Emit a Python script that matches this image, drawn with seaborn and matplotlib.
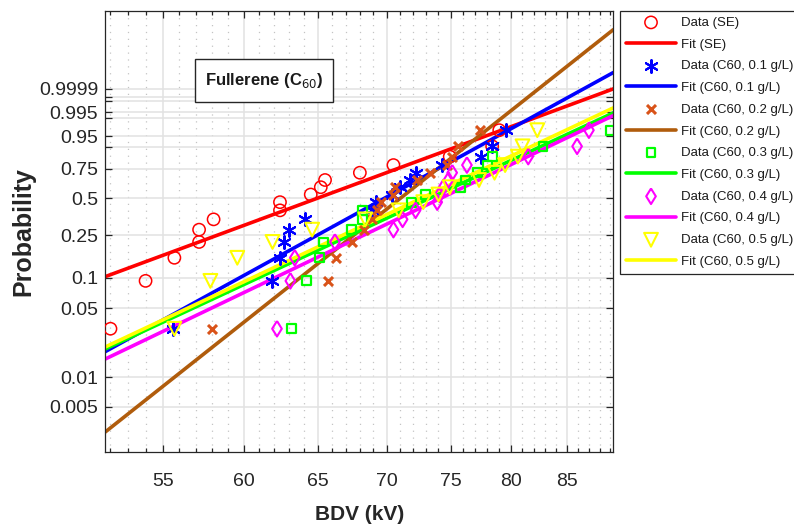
import numpy as np
import pandas as pd
import matplotlib
matplotlib.use("Agg")
import matplotlib.pyplot as plt
import seaborn as sns
from matplotlib.ticker import FixedLocator, FixedFormatter, NullFormatter
from matplotlib.patches import Rectangle

# Plotting positions (i - 0.5) / n for the 16 breakdown tests of every sample
prob = [0.03125, 0.09375, 0.15625, 0.21875, 0.28125, 0.34375, 0.40625, 0.46875,
        0.53125, 0.59375, 0.65625, 0.71875, 0.78125, 0.84375, 0.90625, 0.96875]

# Sorted breakdown voltages (kV)
bdv_se = [52.0, 54.0, 55.7, 57.2, 57.2, 58.1, 62.4, 62.4,
          64.5, 65.2, 65.5, 68.0, 70.5, 74.9, 78.4, 79.0]
bdv_c60_01 = [55.6, 61.9, 62.4, 62.7, 63.0, 64.1, 68.9, 69.2,
              70.4, 71.0, 71.8, 72.2, 74.3, 77.5, 78.4, 79.6]
bdv_c60_02 = [58.0, 65.7, 66.3, 67.4, 68.3, 68.9, 69.3, 69.6,
              70.5, 70.6, 72.3, 73.3, 74.7, 75.1, 75.6, 77.4]
bdv_c60_03 = [63.2, 64.2, 65.1, 65.4, 67.4, 68.2, 68.2, 71.9,
              73.0, 75.8, 76.2, 77.2, 78.0, 78.4, 82.8, 89.0]
bdv_c60_04 = [62.2, 63.1, 63.4, 66.2, 70.5, 71.2, 72.2, 73.9,
              74.1, 74.4, 74.8, 75.1, 76.3, 81.5, 85.9, 87.0]
bdv_c60_05 = [55.7, 57.9, 59.6, 61.9, 64.6, 68.4, 70.9, 72.8,
              74.0, 74.9, 77.3, 78.6, 79.5, 80.6, 81.0, 82.3]

# Weibull fit parameters: scale (kV) and shape
scale = [67.95, 71.97, 72.54, 75.97, 76.8, 75.26]
shape = [8.12, 12.07, 17.4, 10.21, 10.53, 10.34]

names = ["SE", "C60, 0.1 g/L", "C60, 0.2 g/L", "C60, 0.3 g/L", "C60, 0.4 g/L", "C60, 0.5 g/L"]
samples = [bdv_se, bdv_c60_01, bdv_c60_02, bdv_c60_03, bdv_c60_04, bdv_c60_05]

# Probability axis tick values (labels left blank where they would crowd)
ytick_p = [0.005, 0.01, 0.05, 0.1, 0.25, 0.5, 0.75, 0.9, 0.95, 0.99, 0.995, 0.999, 0.9995, 0.9999]
ytick_lab = ["0.005", "0.01", "0.05", "0.1", "0.25", "0.5", "0.75", "", "0.95", "", "0.995", "", "", "0.9999"]
xtick_major = [55, 60, 65, 70, 75, 80, 85]

data_color = ["#ff0000", "#0000ff", "#d95319", "#00ff00", "#ff00ff", "#ffff00"]
fit_color = ["#ff0000", "#0000ff", "#b05c0c", "#00ff00", "#ff00ff", "#ffff00"]

diamond = [(0, 1), (0.62, 0), (0, -1), (-0.62, 0), (0, 1)]
marker_style = [
    dict(marker="o", s=78, facecolor="none", linewidth=1.1),
    dict(marker=(6, 2, 0), s=85, linewidth=1.5),
    dict(marker="x", s=42, linewidth=2.2),
    dict(marker="s", s=40, facecolor="none", linewidth=1.6),
    dict(marker=diamond, s=125, facecolor="none", linewidth=1.5),
    dict(marker="v", s=98, facecolor="none", linewidth=1.5),
]


def weibull_y(p):
    """Reduced Weibull variate ln(-ln(1 - p))."""
    p = np.asarray(p, dtype=float)
    return np.log(-np.log1p(-p))


XMIN, XMAX = 51.71, 89.31
YMIN, YMAX = -6.37, 4.067

sns.set_theme(style="ticks")
plt.rcParams["font.family"] = ["Liberation Sans", "DejaVu Sans"]

fig = plt.figure(figsize=(7.94, 5.25), dpi=100)
ax = fig.add_axes([0.1326, 0.1385, 0.6398, 0.8411])
ax.set_xscale("log")

xx = np.geomspace(XMIN, XMAX, 200)
for i, (name, bdv) in enumerate(zip(names, samples)):
    df = pd.DataFrame({"BDV": bdv, "Weibull": weibull_y(prob)})
    st = dict(marker_style[i])
    if st.get("facecolor") == "none":
        st["edgecolor"] = data_color[i]
    else:
        st["color"] = data_color[i]
    sns.scatterplot(data=df, x="BDV", y="Weibull", ax=ax, label=f"Data ({name})",
                    zorder=3, **st)
    fit = pd.DataFrame({"BDV": xx, "Weibull": shape[i] * (np.log(xx) - np.log(scale[i]))})
    sns.lineplot(data=fit, x="BDV", y="Weibull", ax=ax, color=fit_color[i],
                 linewidth=2.6, label=f"Fit ({name})", zorder=2)

ax.set_xlim(XMIN, XMAX)
ax.set_ylim(YMIN, YMAX)

ax.xaxis.set_major_locator(FixedLocator(xtick_major))
ax.xaxis.set_major_formatter(FixedFormatter([str(v) for v in xtick_major]))
ax.xaxis.set_minor_locator(FixedLocator([v for v in range(52, 90) if v not in xtick_major]))
ax.xaxis.set_minor_formatter(NullFormatter())
ax.yaxis.set_major_locator(FixedLocator(weibull_y(ytick_p)))
ax.yaxis.set_major_formatter(FixedFormatter(ytick_lab))
ax.yaxis.set_minor_locator(FixedLocator([]))

ax.grid(which="major", color="#e2e2e2", linewidth=1.1, linestyle="-", zorder=0)
ax.xaxis.grid(which="minor", color="#c4c4c4", linewidth=0.9, linestyle=(0, (1, 4.5)))
ax.set_axisbelow(True)

ax.tick_params(which="both", direction="in", top=True, right=True,
               color="#262626", width=0.9, labelcolor="#262626", labelsize=14)
ax.tick_params(which="major", length=5)
ax.tick_params(which="minor", length=3)
ax.tick_params(axis="x", pad=15)
ax.tick_params(axis="y", pad=5)
for sp in ax.spines.values():
    sp.set_color("#262626")
    sp.set_linewidth(0.9)

ax.set_xlabel("BDV (kV)", fontsize=15, fontweight="bold", color="#262626", labelpad=11)
ax.set_ylabel("Probability", fontsize=18, fontweight="bold", color="#262626", labelpad=3)

# Sample label box
ax.add_patch(Rectangle((0.1766, 0.7939), 0.271, 0.0967, transform=ax.transAxes,
                       facecolor="white", edgecolor="#262626", linewidth=1.0, zorder=4))
ax.text(0.312, 0.842, "Fullerene (C$_{60}$)", transform=ax.transAxes, ha="center", va="center",
        fontsize=12, fontweight="bold", color="#1a1a1a", zorder=5)

leg = ax.legend(loc="upper left", bbox_to_anchor=(620 / 794, 1 - 10.7 / 525),
                bbox_transform=fig.transFigure, borderaxespad=0, fontsize=9.5,
                frameon=True, fancybox=False, edgecolor="#262626", framealpha=1,
                handlelength=3.8, handletextpad=0.35, labelspacing=0.72,
                borderpad=0.45, markerscale=1.0)
leg.get_frame().set_linewidth(0.9)
for t in leg.get_texts():
    t.set_color("#1a1a1a")

fig.savefig("out.png", dpi=100)
